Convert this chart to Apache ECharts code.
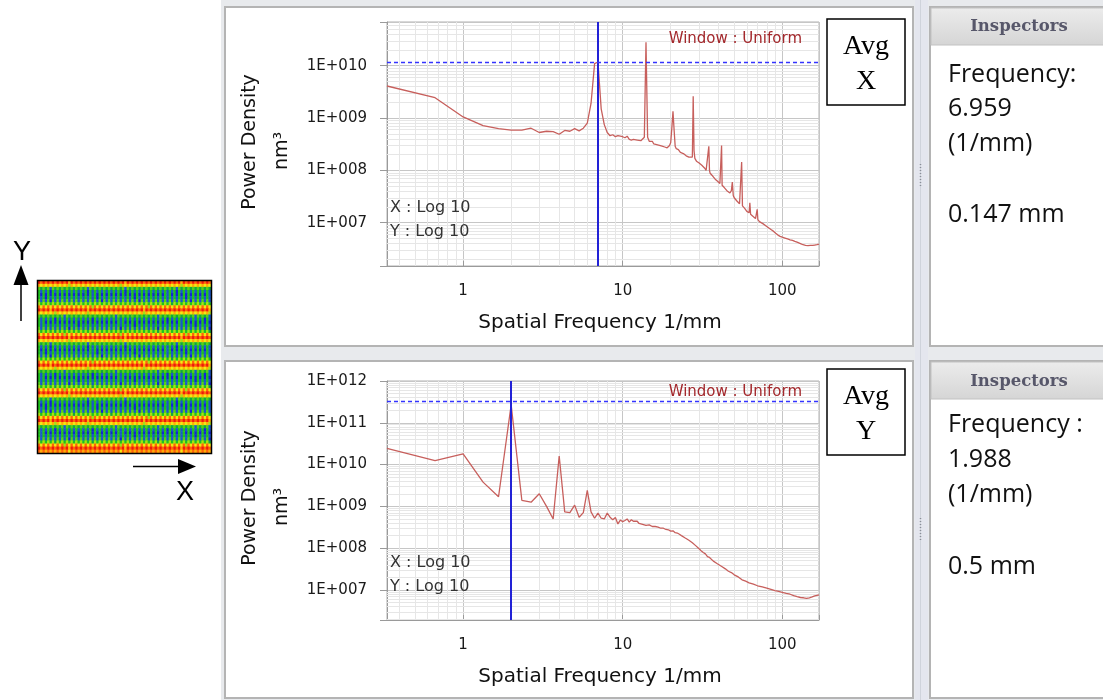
<!DOCTYPE html>
<html>
<head>
<meta charset="utf-8">
<script src="https://cdn.jsdelivr.net/npm/echarts@6/dist/echarts.min.js"></script>
<style>
  html, body { margin: 0; padding: 0; background: #fff; }
  #main { width: 1103px; height: 700px; }
</style>
</head>
<body>
<div id="main"></div>
<script>
// Avg X spectrum: [frequency 1/mm, power density nm^3]
const avgXPoints = [
  [0.333, 4.1e9], [0.667, 2.45e9], [1.0, 1.05e9], [1.333, 7.2e8], [1.667, 6.3e8], [2.0, 5.9e8],
  [2.333, 5.9e8], [2.667, 6.4e8], [3.0, 5.3e8], [3.333, 5.6e8], [3.667, 5.5e8], [4.0, 4.9e8],
  [4.333, 5.8e8], [4.667, 5.6e8], [5.0, 6.3e8], [5.333, 5.7e8], [5.667, 6.4e8], [6.0, 8.0e8],
  [6.333, 1.9e9], [6.667, 1.1e10], [7.0, 1.18e10], [7.333, 1.5e9], [7.667, 7.5e8], [8.0, 5.3e8],
  [8.333, 4.6e8], [8.667, 4.8e8], [9.0, 4.4e8], [9.333, 4.6e8], [9.667, 4.5e8], [10.0, 4.4e8],
  [10.333, 4.2e8], [10.667, 4.5e8], [11.0, 3.9e8], [11.333, 3.8e8], [11.667, 3.9e8], [12.0, 3.7e8],
  [12.333, 3.8e8], [12.667, 3.6e8], [13.0, 3.7e8], [13.333, 3.9e8], [13.667, 4.3e8], [14.0, 2.8e10],
  [14.333, 4.3e8], [14.667, 3.6e8], [15.0, 3.4e8], [15.333, 3.6e8], [15.667, 3.2e8], [16.0, 3.3e8],
  [16.333, 3.1e8], [16.667, 3.2e8], [17.0, 3.0e8], [17.333, 3.1e8], [17.667, 2.9e8], [18.0, 2.9e8],
  [18.333, 2.8e8], [18.667, 2.8e8], [19.0, 2.7e8], [19.333, 2.8e8], [19.667, 3.0e8], [20.0, 3.4e8],
  [20.333, 6.5e8], [20.667, 1.35e9], [21.0, 6.0e8], [21.333, 2.9e8], [21.667, 2.6e8], [22.0, 2.4e8],
  [22.333, 2.5e8], [22.667, 2.3e8], [23.0, 2.2e8], [23.333, 2.25e8], [23.667, 2.1e8], [24.0, 2.1e8],
  [24.333, 2.0e8], [25.0, 1.9e8], [25.333, 2.0e8], [26.0, 1.8e8], [26.667, 1.7e8], [27.333, 1.8e8],
  [27.667, 2.6e9], [28.0, 2.4e8], [28.333, 1.7e8], [28.667, 1.6e8], [29.0, 1.5e8], [29.333, 1.6e8],
  [30.0, 1.4e8], [30.667, 1.3e8], [31.333, 1.25e8], [32.0, 1.15e8], [32.667, 1.1e8], [33.333, 1.0e8],
  [34.0, 9.6e7], [34.667, 2.9e8], [35.0, 1.0e8], [35.333, 8.8e7], [36.0, 8.4e7], [36.667, 7.8e7],
  [37.333, 7.4e7], [38.0, 6.8e7], [38.667, 6.5e7], [39.333, 6.2e7], [40.0, 5.8e7], [40.667, 5.6e7],
  [41.333, 5.8e7], [41.667, 3.0e8], [42.0, 5.2e7], [42.667, 4.9e7], [43.333, 4.7e7], [44.0, 4.4e7],
  [45.0, 4.1e7], [46.0, 3.9e7], [47.0, 3.7e7], [48.0, 4.1e7], [48.667, 6.0e7], [49.333, 3.3e7],
  [50.0, 3.0e7], [51.0, 2.8e7], [52.0, 2.6e7], [53.0, 2.5e7], [54.0, 2.3e7], [55.0, 2.2e7],
  [55.667, 1.45e8], [56.333, 2.1e7], [57.0, 1.95e7], [58.0, 1.9e7], [59.0, 1.8e7], [60.0, 1.65e7],
  [61.0, 1.6e7], [62.0, 1.55e7], [62.667, 2.4e7], [63.333, 1.45e7], [64.0, 1.35e7], [66.0, 1.3e7],
  [68.0, 1.2e7], [69.667, 1.8e7], [70.333, 1.15e7], [72.0, 1.05e7], [74.0, 1.0e7], [76.0, 9.5e6],
  [78.0, 9.0e6], [80.0, 8.5e6], [82.0, 8.0e6], [85.0, 7.4e6], [88.0, 6.9e6], [91.0, 6.3e6],
  [94.0, 5.8e6], [97.0, 5.5e6], [100.0, 5.3e6], [104.0, 5.1e6], [108.0, 4.9e6], [112.0, 4.7e6],
  [116.0, 4.6e6], [120.0, 4.4e6], [125.0, 4.2e6], [130.0, 4.0e6], [135.0, 3.8e6], [140.0, 3.7e6],
  [145.0, 3.65e6], [150.0, 3.7e6], [155.0, 3.7e6], [160.0, 3.75e6], [165.0, 3.8e6], [170.0, 3.9e6]
]

// Avg Y spectrum
const avgYPoints = [
  [0.333, 2.45e10], [0.667, 1.25e10], [1.0, 1.8e10], [1.333, 3.8e9], [1.667, 1.7e9], [2.0, 2.7e11],
  [2.333, 1.4e9], [2.667, 1.26e9], [3.0, 2.0e9], [3.333, 1.0e9], [3.667, 5.0e8], [4.0, 1.6e10],
  [4.333, 7.4e8], [4.667, 7.1e8], [5.0, 1.07e9], [5.333, 5.5e8], [5.667, 7.1e8], [6.0, 2.4e9],
  [6.333, 7.4e8], [6.667, 5.2e8], [7.0, 6.9e8], [7.333, 5.2e8], [7.667, 5.0e8], [8.0, 6.9e8],
  [8.333, 5.5e8], [8.667, 4.8e8], [9.0, 5.4e8], [9.333, 3.8e8], [9.667, 4.7e8], [10.0, 4.3e8],
  [10.333, 4.6e8], [10.667, 5.0e8], [11.0, 4.2e8], [11.333, 4.8e8], [11.667, 4.4e8], [12.0, 4.0e8],
  [12.333, 4.4e8], [12.667, 3.9e8], [13.0, 4.1e8], [13.333, 3.7e8], [13.667, 3.9e8], [14.0, 3.5e8],
  [14.333, 3.8e8], [14.667, 3.6e8], [15.0, 3.4e8], [15.333, 3.3e8], [15.667, 3.5e8], [16.0, 3.3e8],
  [16.333, 3.4e8], [16.667, 3.2e8], [17.0, 3.1e8], [17.333, 3.0e8], [17.667, 3.2e8], [18.0, 3.0e8],
  [18.667, 2.8e8], [19.333, 2.75e8], [20.0, 2.55e8], [20.667, 2.6e8], [21.333, 2.35e8], [22.0, 2.3e8],
  [22.667, 2.15e8], [23.333, 2.0e8], [24.0, 1.85e8], [24.667, 1.75e8], [25.333, 1.6e8], [26.0, 1.55e8],
  [26.667, 1.45e8], [27.333, 1.35e8], [28.0, 1.25e8], [28.667, 1.15e8], [29.333, 1.05e8], [30.0, 9.8e7],
  [31.0, 8.7e7], [32.0, 7.9e7], [33.0, 7.3e7], [34.0, 6.3e7], [35.0, 6.0e7], [36.0, 5.7e7],
  [37.0, 4.9e7], [38.0, 4.8e7], [39.0, 4.3e7], [40.0, 4.1e7], [42.0, 3.6e7], [44.0, 3.2e7],
  [46.0, 2.8e7], [48.0, 2.6e7], [50.0, 2.3e7], [53.0, 2.05e7], [56.0, 1.75e7], [59.0, 1.62e7],
  [62.0, 1.48e7], [66.0, 1.38e7], [70.0, 1.26e7], [75.0, 1.18e7], [80.0, 1.1e7], [85.0, 1.03e7],
  [90.0, 9.6e6], [95.0, 9.2e6], [100.0, 8.8e6], [106.0, 8.3e6], [112.0, 7.9e6], [118.0, 7.3e6],
  [124.0, 6.9e6], [130.0, 6.6e6], [136.0, 6.5e6], [142.0, 6.3e6], [148.0, 6.5e6], [154.0, 6.8e6],
  [160.0, 7.2e6], [165.0, 7.4e6], [170.0, 7.6e6]
]

// cursor readings from the inspectors
const cursorX = { freq: 6.959, level: 1.18e10 }
const cursorY = { freq: 1.988, level: 3.3e11 }

// axis ranges
const freqRange = [0.3333, 170]
const powerRangeX = [1.49e6, 6.85e10]
const powerRangeY = [1.91e6, 1e12]

// surface map (height levels 0..9), one string per row, top row first
const heatRows = [
  '9898989898 9897989898 9898989898 9898989798 9898989898 9898989898 9798989898 9898',
  '7676767676 7675767676 7676767676 7676757676 7676767676 7676767676 7576767676 7676',
  '4242414242 4242424242 4142424242 4242424142 4242424242 4242424241 4242424242 4242',
  '3131303131 3131313131 3031313131 3131313031 3131313131 3131313130 3131313131 3131',
  '3030303030 3030303030 3031303030 3030303030 3030303030 3030313030 3030303030 3031',
  '3130313131 3131313131 3131303131 3131313131 3031313131 3131313131 3130313131 3131',
  '4141404141 4141414141 4141414041 4141414141 4140414141 4141414141 4141404141 4141',
  '5353535353 5353525353 5353535353 5253535353 5353535353 5353535253 5353535353 5353',
  '8686868686 8686868686 8685868686 8686868686 8686868586 8686868686 8686868686 8686',
  '9898979898 9898989898 9798989898 9898989898 9898979898 9898989898 9898989898 9897',
  '7676767576 7676767676 7576767676 7676767676 7676757676 7676767676 7676767676 7675',
  '4242424242 4142424242 4242424242 4241424242 4242424242 4142424242 4242424142 4241',
  '3131313031 3131313131 3130313131 3131313131 3131313131 3131303131 3131313131 3031',
  '3130303030 3030303030 3030303030 3030313030 3030303030 3030303030 3130303030 3030',
  '3131313131 3131313031 3131313131 3131313131 3031313131 3131313131 3131313031 3131',
  '4141414141 4140414141 4141414141 4141404141 4141414141 4041414141 4141414141 4140',
  '5353535253 5353535353 5352535353 5353535353 5353535353 5253535353 5353535353 5352',
  '8686868686 8586868686 8686868686 8686858686 8686868686 8686868686 8685868686 8686',
  '9898989898 9897989898 9898989898 9898989798 9898989898 9898989898 9798989898 9898',
  '7676767676 7675767676 7676767676 7676757676 7676767676 7676767676 7576767676 7676',
  '4242414242 4242424242 4142424242 4242424142 4242424242 4242424241 4242424242 4242',
  '3131303131 3131313131 3031313131 3131313031 3131313131 3131313130 3131313131 3131',
  '3030303030 3030303030 3031303030 3030303030 3030303030 3030313030 3030303030 3031',
  '3130313131 3131313131 3131303131 3131313131 3031313131 3131313131 3130313131 3131',
  '4141404141 4141414141 4141414041 4141414141 4140414141 4141414141 4141404141 4141',
  '5353535353 5353525353 5353535353 5253535353 5353535353 5353535253 5353535353 5353',
  '8686868686 8686868686 8685868686 8686868686 8686868586 8686868686 8686868686 8686',
  '9898979898 9898989898 9798989898 9898989898 9898979898 9898989898 9898989898 9897',
  '7676767576 7676767676 7576767676 7676767676 7676757676 7676767676 7676767676 7675',
  '4242424242 4142424242 4242424242 4241424242 4242424242 4142424242 4242424142 4241',
  '3131313031 3131313131 3130313131 3131313131 3131313131 3131303131 3131313131 3031',
  '3130303030 3030303030 3030303030 3030313030 3030303030 3030303030 3130303030 3030',
  '3131313131 3131313031 3131313131 3131313131 3031313131 3131313131 3131313031 3131',
  '4141414141 4140414141 4141414141 4141404141 4141414141 4041414141 4141414141 4140',
  '5353535253 5353535353 5352535353 5353535353 5353535353 5253535353 5353535353 5352',
  '8686868686 8586868686 8686868686 8686858686 8686868686 8686868686 8685868686 8686',
  '9898989898 9897989898 9898989898 9898989798 9898989898 9898989898 9798989898 9898',
  '7676767676 7675767676 7676767676 7676757676 7676767676 7676767676 7576767676 7676',
  '4242414242 4242424242 4142424242 4242424142 4242424242 4242424241 4242424242 4242',
  '3131303131 3131313131 3031313131 3131313031 3131313131 3131313130 3131313131 3131',
  '3030303030 3030303030 3031303030 3030303030 3030303030 3030313030 3030303030 3031',
  '3130313131 3131313131 3131303131 3131313131 3031313131 3131313131 3130313131 3131',
  '4141404141 4141414141 4141414041 4141414141 4140414141 4141414141 4141404141 4141',
  '5353535353 5353525353 5353535353 5253535353 5353535353 5353535253 5353535353 5353',
  '8686868686 8686868686 8685868686 8686868686 8686868586 8686868686 8686868686 8686',
  '9898979898 9898989898 9798989898 9898989898 9898979898 9898989898 9898989898 9897',
  '7676767576 7676767676 7576767676 7676767676 7676757676 7676767676 7676767676 7675',
  '4242424242 4142424242 4242424242 4241424242 4242424242 4142424242 4242424142 4241',
  '3131313031 3131313131 3130313131 3131313131 3131313131 3131303131 3131313131 3031',
  '3130303030 3030303030 3030303030 3030313030 3030303030 3030303030 3130303030 3030',
  '3131313131 3131313031 3131313131 3131313131 3031313131 3131313131 3131313031 3131',
  '4141414141 4140414141 4141414141 4141404141 4141414141 4041414141 4141414141 4140',
  '5353535253 5353535353 5352535353 5353535353 5353535353 5253535353 5353535353 5352',
  '8686868686 8586868686 8686868686 8686858686 8686868686 8686868686 8685868686 8686',
  '9898989898 9897989898 9898989898 9898989798 9898989898 9898989898 9798989898 9898',
  '8787878787 8786878787 8787878787 8787868787 8787878787 8787878787 8687878787 8787'
]
const heatColors = ['#1226d6', '#1a58c8', '#14a83a', '#1fc21c', '#55d314', '#a6e212', '#f2ea10', '#ffac06', '#ff6408', '#ee1a0a']

const heatData = []
heatRows.forEach((row, r) => {
  row.replace(/ /g, '').split('').forEach((ch, c) => heatData.push([c, r, Number(ch)]))
})
const heatCols = heatRows[0].replace(/ /g, '').length

const chart = echarts.init(document.getElementById('main'))

const FONT = '"DejaVu Sans", Verdana, sans-serif'

const decadeOf = v => {
  const e = Math.log10(v)
  return Math.abs(e - Math.round(e)) < 1e-6 ? Math.round(e) : null
}

const xLabel = v => {
  const e = decadeOf(v)
  return e === null ? '' : String(Math.round(Math.pow(10, e)))
}
const yLabel = v => {
  const e = decadeOf(v)
  return e === null ? '' : '1E+' + String(e).padStart(3, '0')
}

// light lines at 2..9 of every decade
const minorMarks = (xr, yr) => {
  const out = []
  const add = (lo, hi, key) => {
    for (let e = Math.floor(Math.log10(lo)); e <= Math.floor(Math.log10(hi)); e++) {
      for (let k = 2; k <= 9; k++) {
        const v = k * Math.pow(10, e)
        if (v > lo && v < hi) out.push({ [key]: v })
      }
    }
  }
  add(xr[0], xr[1], 'xAxis')
  add(yr[0], yr[1], 'yAxis')
  return out
}

const logX = gridIndex => ({
  type: 'log',
  logBase: 10,
  gridIndex,
  min: freqRange[0],
  max: freqRange[1],
  axisLine: { show: true, lineStyle: { color: '#9a9a9a' } },
  axisTick: { show: true, inside: true, length: 5, lineStyle: { color: '#9a9a9a' } },
  axisLabel: { formatter: xLabel, margin: 18, fontFamily: FONT, fontSize: 15, color: '#1a1a1a' },
  splitLine: { show: true, lineStyle: { color: '#c6c6c6' } }
})

const logY = (gridIndex, range) => ({
  type: 'log',
  logBase: 10,
  gridIndex,
  min: range[0],
  max: range[1],
  axisLine: { show: true, lineStyle: { color: '#9a9a9a' } },
  axisTick: { show: true, length: 7, lineStyle: { color: '#9a9a9a' } },
  axisLabel: { formatter: yLabel, margin: 20, fontFamily: FONT, fontSize: 15, color: '#1a1a1a' },
  splitLine: { show: true, lineStyle: { color: '#c6c6c6' } }
})

const spectrum = (idx, points, cursor) => ({
  type: 'line',
  xAxisIndex: idx,
  yAxisIndex: idx,
  data: points,
  showSymbol: false,
  z: 3,
  lineStyle: { color: '#c75f5c', width: 1.3 },
  markLine: {
    silent: true,
    symbol: ['none', 'none'],
    label: { show: false },
    animation: false,
    data: [
      { xAxis: cursor.freq, lineStyle: { color: '#2222d6', width: 2, type: 'solid' } },
      { yAxis: cursor.level, lineStyle: { color: '#3434ff', width: 1.3, type: [4, 3] } }
    ]
  }
})

const minorGrid = (idx, yr) => ({
  type: 'line',
  xAxisIndex: idx,
  yAxisIndex: idx,
  data: [],
  silent: true,
  markLine: {
    z: 1,
    silent: true,
    symbol: ['none', 'none'],
    label: { show: false },
    animation: false,
    lineStyle: { color: '#e6e6e6', width: 1, type: 'solid' },
    data: minorMarks(freqRange, yr)
  }
})

const txt = (x, y, text, font, fill, align, extra) => Object.assign({
  type: 'text', x, y, z: 20, silent: true,
  style: { text, font, fill, align: align || 'left', verticalAlign: 'middle' }
}, extra || {})

const panelRect = (x, y, w, h) => ({
  type: 'rect', z: -5, silent: true,
  shape: { x, y, width: w, height: h },
  style: { fill: '#fff', stroke: '#b4b4b4', lineWidth: 2 }
})

const headerRect = y => ({
  type: 'rect', z: -4, silent: true,
  shape: { x: 931, y, width: 175, height: 37 },
  style: {
    fill: new echarts.graphic.LinearGradient(0, 0, 0, 1, [
      { offset: 0, color: '#ececec' },
      { offset: 1, color: '#d5d5d5' }
    ]),
    stroke: '#c2c2c2', lineWidth: 1
  }
})

const avgBox = (y, letter) => [
  { type: 'rect', z: 20, silent: true, shape: { x: 827, y, width: 78, height: 86 }, style: { fill: '#fff', stroke: '#000', lineWidth: 1.5 } },
  txt(866, y + 28, 'Avg', '28px "Liberation Serif", serif', '#000', 'center'),
  txt(866, y + 63, letter, '28px "Liberation Serif", serif', '#000', 'center')
]

const chartTexts = (top, axisLabelY, windowY, logY1) => [
  txt(250, top, 'Power Density', '19px ' + FONT, '#111', 'center', { rotation: Math.PI / 2 }),
  txt(282, top + 9, 'nm³', '19px ' + FONT, '#111', 'center', { rotation: Math.PI / 2 }),
  txt(600, axisLabelY, 'Spatial Frequency 1/mm', '20px ' + FONT, '#111', 'center'),
  txt(802, windowY, 'Window : Uniform', '15px ' + FONT, '#a3282c', 'right'),
  txt(390, logY1, 'X : Log 10', '16px ' + FONT, '#333', 'left'),
  txt(390, logY1 + 24, 'Y : Log 10', '16px ' + FONT, '#333', 'left')
]

const inspectorTexts = (y0, lines) => lines.map(l => txt(948, y0 + l[1], l[0], '25px "Open Sans", sans-serif', '#111', 'left'))

const graphics = [
  { type: 'rect', z: -10, silent: true, shape: { x: 221, y: 0, width: 882, height: 700 }, style: { fill: '#e8eaed' } },
  panelRect(225, 7, 688, 339),
  panelRect(225, 361, 688, 337),
  { type: 'rect', z: -6, silent: true, shape: { x: 915, y: 0, width: 13, height: 700 }, style: { fill: '#e4e6ee' } },
  { type: 'line', z: -5, silent: true, shape: { x1: 920.5, y1: 0, x2: 920.5, y2: 700 }, style: { stroke: '#cfd3db', lineWidth: 1 } },
  { type: 'line', z: -5, silent: true, shape: { x1: 920.5, y1: 164, x2: 920.5, y2: 188 }, style: { stroke: '#8a8f99', lineWidth: 1.5, lineDash: [1, 2] } },
  { type: 'line', z: -5, silent: true, shape: { x1: 920.5, y1: 518, x2: 920.5, y2: 542 }, style: { stroke: '#8a8f99', lineWidth: 1.5, lineDash: [1, 2] } },
  panelRect(930, 7, 180, 339),
  panelRect(930, 361, 180, 337),
  headerRect(8),
  headerRect(362),
  txt(1019, 27, 'Inspectors', 'bold 16.5px "DejaVu Serif", serif', '#57576a', 'center'),
  txt(1019, 382, 'Inspectors', 'bold 16.5px "DejaVu Serif", serif', '#57576a', 'center'),
  ...inspectorTexts(0, [['Frequency:', 75], ['6.959', 109], ['(1/mm)', 144], ['0.147 mm', 215]]),
  ...inspectorTexts(355, [['Frequency :', 70], ['1.988', 105], ['(1/mm)', 140], ['0.5 mm', 212]]),
  ...chartTexts(142, 323, 39, 208),
  ...chartTexts(498, 677, 392, 563),
  ...avgBox(19, 'X'),
  ...avgBox(369, 'Y'),
  // surface map frame and direction arrows
  { type: 'rect', z: 20, silent: true, shape: { x: 37.5, y: 280.5, width: 174, height: 173 }, style: { fill: 'none', stroke: '#000', lineWidth: 1.5 } },
  { type: 'line', z: 20, silent: true, shape: { x1: 21, y1: 283, x2: 21, y2: 321 }, style: { stroke: '#000', lineWidth: 1.5 } },
  { type: 'polygon', z: 20, silent: true, shape: { points: [[21, 265], [13.5, 285], [28.5, 285]] }, style: { fill: '#000' } },
  { type: 'line', z: 20, silent: true, shape: { x1: 133, y1: 466.5, x2: 181, y2: 466.5 }, style: { stroke: '#000', lineWidth: 1.5 } },
  { type: 'polygon', z: 20, silent: true, shape: { points: [[196, 466.5], [178, 459], [178, 474]] }, style: { fill: '#000' } },
  txt(22, 253, 'Y', '27px "Liberation Sans", Arial, sans-serif', '#000', 'center'),
  txt(185, 493, 'X', '27px "Liberation Sans", Arial, sans-serif', '#000', 'center')
]

const option = {
  animation: false,
  backgroundColor: '#fff',
  grid: [
    { left: 387, top: 22, width: 432, height: 244, show: true, backgroundColor: '#fff', borderColor: '#b0b0b0', borderWidth: 1, outerBoundsMode: 'none' },
    { left: 387, top: 381, width: 432, height: 239, show: true, backgroundColor: '#fff', borderColor: '#b0b0b0', borderWidth: 1, outerBoundsMode: 'none' },
    { left: 38, top: 281, width: 173, height: 172, outerBoundsMode: 'none' }
  ],
  xAxis: [
    logX(0),
    logX(1),
    { type: 'category', gridIndex: 2, data: Array.from({ length: heatCols }, (_, i) => i), show: false }
  ],
  yAxis: [
    logY(0, powerRangeX),
    logY(1, powerRangeY),
    { type: 'category', gridIndex: 2, inverse: true, data: heatRows.map((_, i) => i), show: false }
  ],
  visualMap: {
    show: false,
    type: 'continuous',
    min: 0,
    max: 9,
    dimension: 2,
    seriesIndex: 4,
    inRange: { color: heatColors }
  },
  series: [
    spectrum(0, avgXPoints, cursorX),
    spectrum(1, avgYPoints, cursorY),
    minorGrid(0, powerRangeX),
    minorGrid(1, powerRangeY),
    {
      type: 'heatmap',
      xAxisIndex: 2,
      yAxisIndex: 2,
      data: heatData,
      silent: true,
      itemStyle: { borderWidth: 0 }
    }
  ],
  graphic: { elements: graphics }
}

chart.setOption(option)
</script>
</body>
</html>
